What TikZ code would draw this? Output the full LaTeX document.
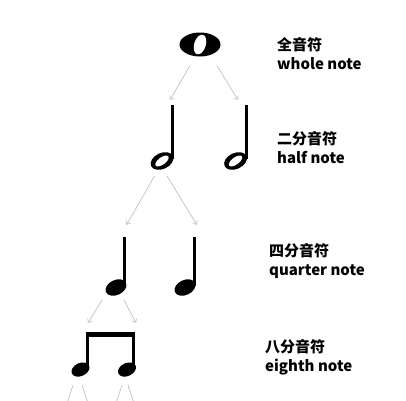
\documentclass[tikz,border=0pt]{standalone}
\usepackage{fontspec}
\newfontfamily\cjk{Noto Sans CJK SC}
\usetikzlibrary{positioning,arrows.meta}

\begin{document}
\begin{tikzpicture}[x=1pt,y=-1pt,
  link/.style={line width=0.8, color=black!22, -{Straight Barb[length=3pt,width=5pt]}},
  stem/.style={line width=3},
  notename/.style={anchor=west, align=left, inner sep=0, font=\cjk\bfseries\fontsize{15}{19}\selectfont}]
\useasboundingbox (0,0) rectangle (406,400);
\clip (0,0) rectangle (406,400);
\coordinate (whole) at (200,44.5);
\coordinate (hl) at (162,161);
\coordinate (hr) at (235.5,161);
\coordinate (hl-top) at (172.5,105);
\coordinate (hr-top) at (246,105);
\coordinate (ql) at (116,287.5);
\coordinate (qr) at (185,287.5);
\coordinate (ql-top) at (124.5,237);
\coordinate (qr-top) at (194,237);
\coordinate (el) at (80.5,369.5);
\coordinate (er) at (127,369.5);
\coordinate (el-top) at (87,332);
\coordinate (er-top) at (133.5,332);
\fill (whole) ellipse [x radius=20.5, y radius=12];
\fill[white, rotate around={-17:(whole)}] (whole) ellipse [x radius=5.8, y radius=10.2];
\fill[rotate around={25:(hl)}] (hl) ellipse [x radius=12, y radius=8];
\fill[white, rotate around={36:(hl)}] (hl) ellipse [x radius=7.8, y radius=3.6];
\fill[rotate around={25:(hr)}] (hr) ellipse [x radius=12, y radius=8];
\fill[white, rotate around={36:(hr)}] (hr) ellipse [x radius=7.8, y radius=3.6];
\draw[stem] (hl-top) -- ++(0,54);
\draw[stem] (hr-top) -- ++(0,54);
\fill[rotate around={25:(ql)}] (ql) ellipse [x radius=11, y radius=7.5];
\fill[rotate around={25:(qr)}] (qr) ellipse [x radius=11, y radius=7.5];
\draw[stem] (ql-top) -- ++(0,49);
\draw[stem] (qr-top) -- ++(0,49);
\fill[rotate around={25:(el)}] (el) ellipse [x radius=9.5, y radius=6.5];
\fill[rotate around={25:(er)}] (er) ellipse [x radius=9.5, y radius=6.5];
\draw[stem] (el-top) -- ++(0,36);
\draw[stem] (er-top) -- ++(0,36);
\fill ([shift={(-1.5,-0.5)}]el-top) rectangle ([shift={(1.5,4.5)}]er-top);
\draw[link] ([shift={(-10,21)}]whole) -- ([shift={(-2.5,-5)}]hl-top);
\draw[link] ([shift={(17,21)}]whole) -- ([shift={(-8,-5)}]hr-top);
\draw[link] ([shift={(-7.5,15)}]hl) -- ([shift={(2,-12)}]ql-top);
\draw[link] ([shift={(5,15)}]hl) -- ([shift={(3,-12)}]qr-top);
\draw[link] ([shift={(-14,12.5)}]ql) -- ([shift={(1,-9)}]el-top);
\draw[link] ([shift={(8,12.5)}]ql) -- ([shift={(2.5,-9)}]er-top);
\draw[link] ([shift={(-7.5,15.5)}]el) -- ++(-8,24);
\draw[link] ([shift={(1.5,15.5)}]el) -- ++(8,24);
\draw[link] ([shift={(-5,15.5)}]er) -- ++(-8,24);
\draw[link] ([shift={(1,15.5)}]er) -- ++(8,24);
\node[notename] (lbl-whole) at (277,53.5) {全音符\\whole note};
\node[notename] (lbl-half) at (277,147.5) {二分音符\\half note};
\node[notename] (lbl-quarter) at (269,261.5) {四分音符\\quarter note};
\node[notename] (lbl-eighth) at (265,357.5) {八分音符\\eighth note};
\end{tikzpicture}
\end{document}
